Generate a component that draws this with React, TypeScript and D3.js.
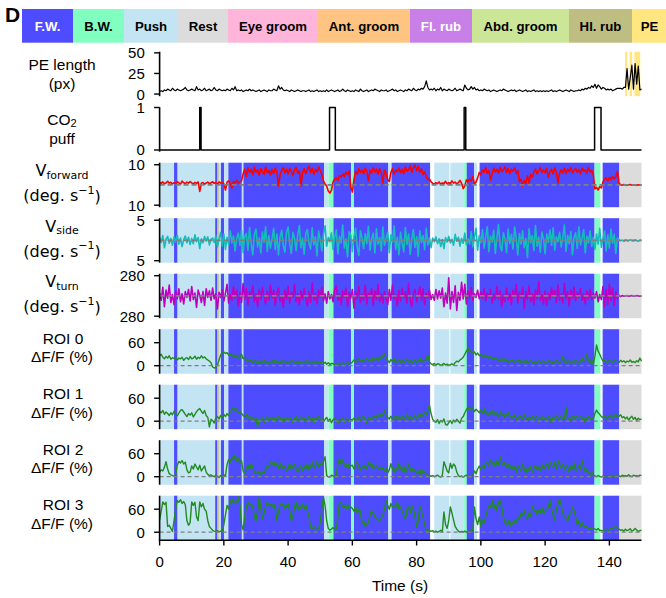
import React from 'react';
import * as d3 from 'd3';

// ---------------- data (sampled every 0.5 s, 0 … 150 s) ----------------
const TIME_STEP = 0.5;

const peLength = [
  3,4,3,5,4,6,5,4,7,5, 4,6,5,4,5,6,8,5,4,5, 6,5,4,9,5,6,4,5,7,4, 5,6,4,5,8,5,4,6,5,4,
  5,4,6,5,4,7,5,9,4,5, 4,5,3,4,5,4,6,4,5,4, 3,4,5,3,4,5,4,3,5,4, 4,6,5,4,10,6,8,5,4,5,
  4,3,5,4,3,4,5,4,3,4, 4,3,4,5,3,4,3,4,5,3, 4,3,4,3,5,3,4,5,4,3, 4,5,3,4,6,4,3,5,4,3,
  4,3,5,4,3,6,4,3,4,5, 3,4,5,4,6,5,4,3,5,4, 4,5,3,4,5,6,4,5,3,4, 5,4,3,5,4,6,5,4,7,5,
  4,6,5,7,6,9,16,8,5,6, 5,7,4,6,5,8,4,6,5,4, 6,5,4,5,7,4,5,6,5,4, 11,7,5,6,9,6,8,5,6,4,
  5,4,6,5,4,5,3,4,5,4, 3,4,5,4,6,5,4,3,4,5, 4,5,3,4,5,4,3,4,5,3, 4,3,4,5,3,4,3,4,3,4,
  3,4,3,4,5,3,4,3,4,5, 4,3,4,5,4,3,5,4,3,4, 4,5,4,6,5,7,6,8,7,10, 8,12,7,11,9,6,8,7,5,6,
  5,6,4,5,6,7,7,7,6,8, 8,31,6,20,35,6,37,12,34,5, 6,
];

const co2Puffs: [number, number][] = [[12.5, 12.9], [52.9, 54.7], [94.8, 95.3], [135.4, 137.4]];

const vForward = [
  1.2,0.8,1.5,0.6,1.0,1.8,0.9,1.3,0.5,1.1, 0.7,1.6,1.0,0.4,1.9,1.1,0.6,1.4,0.9,1.7,
  1.0,0.5,1.3,0.8,1.5,-3.2,0.9,1.2,0.3,1.0, 1.4,0.7,1.1,1.6,0.8,1.2,0.4,1.5,0.9,1.3,
  0.6,-2.5,1.4,2.0,0.8,-1.5,1.8,1.0,2.4,0.9, 1.5,2.0,5.5,7.8,4.2,8.5,6.1,7.9,5.0,8.8,
  6.2,7.5,4.8,8.1,6.6,5.2,8.9,6.0,7.3,4.9, 7.7,5.6,8.3,6.4,-0.5,5.1,7.2,8.6,6.0,7.9,
  5.4,8.2,6.8,4.6,7.5,8.7,5.8,7.0,-0.6,6.3, 8.0,5.5,7.6,9.2,6.1,8.4,5.2,7.8,6.5,8.9,
  7.1,5.0,2.0,0.5,-0.5,-3.0,-4.0,-2.5,1.5,2.8, 3.5,2.2,4.6,3.8,5.4,4.2,6.3,5.1,7.0,-1.0,
  -3.5,2.5,6.8,5.2,8.0,6.1,7.4,5.5,8.3,6.7, 2.0,7.2,5.9,8.5,6.4,7.8,5.3,8.1,6.0,1.0,
  7.5,5.8,2.5,1.8,6.2,8.0,5.4,7.3,6.5,8.4, 6.0,7.8,5.5,8.9,6.8,7.4,9.5,6.2,8.6,9.8,
  7.0,9.2,6.3,8.0,5.1,6.6,4.0,2.5,3.0,1.5, 0.8,0.3,1.2,0.6,1.5,0.4,1.0,0.7,1.8,0.5,
  1.2,0.6,2.0,0.9,1.4,0.5,1.1,2.2,0.8,-1.8, -0.5,2.5,1.6,2.8,1.9,4.2,0.5,1.5,3.5,6.2,
  5.0,7.5,6.2,8.6,5.8,7.1,2.5,5.4,8.3,6.4, 7.8,5.9,8.8,6.5,7.4,9.0,6.2,8.1,5.6,7.7,
  6.8,8.5,5.7,7.2,1.5,3.0,-0.5,2.2,0.8,4.5, 1.0,5.2,3.8,6.5,7.9,5.5,7.0,8.6,6.1,7.5,
  5.9,8.2,3.8,6.7,7.8,5.4,8.5,6.3,1.0,5.8, 7.6,6.0,8.4,5.6,7.9,6.6,8.7,5.9,7.3,8.1,
  6.2,7.7,5.5,8.3,6.9,7.5,5.8,8.6,6.4,7.2, 5.0,-2.0,-1.2,-2.5,-0.8,-1.5,1.5,2.8,3.5,2.0,
  3.8,2.5,4.2,3.0,4.0,6.8,1.0,0.1,-0.1,0.2, 0.0,-0.2,0.1,0.2,-0.1,0.0,0.1,-0.2,0.1,0.0,
  0.0,
];

const vSide = [
  0.8,-0.5,1.2,-1.8,0.3,1.0,-0.7,0.5,-1.2,0.9, -0.4,1.3,-0.9,0.6,-1.5,0.2,1.1,-0.6,0.8,-1.0,
  0.5,-0.8,1.4,-0.3,0.7,-2.0,0.4,-0.6,1.0,-0.2, 0.9,-1.1,0.3,0.6,-0.5,1.2,-1.6,0.4,2.0,-1.4,
  1.6,-2.2,0.8,-1.0,2.4,-0.6,1.1,-2.6,0.5,1.8, -1.2,2.5,-3.0,0.9,1.7,-2.4,3.2,-0.8,-3.5,1.5,
  2.8,-1.6,0.6,-3.1,2.1,-0.5,3.4,-2.7,1.2,-1.9, 0.4,3.0,-2.2,1.6,-3.6,0.8,2.5,-1.3,-2.9,1.9,
  3.3,-0.9,-3.2,2.0,0.5,-2.5,1.4,3.7,-1.8,0.6, -3.4,1.8,2.7,-0.7,-2.1,3.1,-1.1,0.9,-3.8,2.3,
  0.2,-2.6,1.5,3.6,-1.4,0.7,-0.3,1.9,-2.2,0.8, 2.6,-3.3,1.0,-0.6,3.8,-1.9,0.4,-4.1,2.2,1.3,
  -2.8,0.9,3.0,-1.5,-3.7,2.4,0.6,-2.0,1.7,-0.8, 3.5,-2.4,0.3,1.8,-3.1,2.9,-0.9,0.7,-2.6,3.3,
  -1.2,0.5,2.1,-3.0,1.4,-0.4,3.6,-2.2,0.8,-3.5, 2.0,-0.7,-2.8,3.2,-1.0,1.6,-3.4,0.4,2.7,-1.7,
  0.9,-3.9,2.4,-0.5,1.2,-2.3,3.0,-1.1,0.6,-1.8, 0.6,-0.3,0.9,-0.8,0.4,-1.5,0.2,-2.0,0.7,-0.4,
  1.0,-0.6,0.3,-1.2,1.5,-0.2,0.8,-1.4,0.5,-0.7, 1.8,-1.1,0.4,-0.9,2.2,-1.6,0.9,3.0,-2.4,1.2,
  -0.6,2.7,-1.9,0.8,3.4,-2.8,1.1,-0.4,2.5,-3.2, 0.7,3.9,-1.3,-2.6,1.9,0.3,-3.0,2.8,-0.8,1.5,
  -2.1,3.3,0.6,-3.6,1.7,-0.9,2.4,-1.8,0.5,-4.2, 2.9,-0.6,1.2,-2.5,3.7,-1.4,0.8,-2.9,2.1,0.4,
  -3.3,1.6,-0.5,2.6,-1.2,3.1,-2.4,0.9,-0.3,2.0, -1.6,0.7,3.8,-2.7,1.3,-0.8,2.2,-3.5,0.6,1.9,
  -2.0,3.4,-1.1,0.5,2.7,-3.1,1.0,-0.6,2.4,-1.5, 0.8,-2.2,1.6,-0.9,3.0,-1.7,0.5,2.3,-2.6,1.4,
  -1.9,2.8,-0.7,1.5,-3.2,0.6,0.2,-0.1,0.1,-0.2, 0.1,0.0,-0.1,0.2,0.0,-0.1,0.1,0.0,-0.2,0.1,
  0.0,
];

const vTurn = [
  40,-60,120,-150,80,-30,150,-90,20,-120, 70,-40,100,-80,30,-110,60,-20,90,-70,
  130,-50,40,-160,80,10,-90,60,-130,100, -20,70,-60,110,-40,30,-180,50,-20,90,
  -70,40,160,-100,20,-60,130,-30,80,-140, 50,-90,170,-40,100,-120,60,-20,140,-80,
  30,-150,90,-50,120,-10,-110,70,-60,150, -30,80,-130,40,110,-70,20,-160,90,-40,
  130,-100,50,-20,160,-80,30,-120,70,-50, 100,-30,-140,60,-90,180,-60,40,-110,80,
  -20,120,-70,30,-100,60,-40,20,-80,90, 140,-60,30,-120,70,-20,110,-150,50,-30,
  90,-170,60,-40,130,-90,20,-60,150,-110, 40,-20,100,-130,70,-50,160,-80,30,-100,
  60,-30,-120,90,-60,150,-40,20,-140,80, -70,110,-30,60,-100,170,-50,-150,40,90,
  -80,20,130,-60,100,-120,40,-30,80,-50, 20,-60,90,-40,70,-30,110,-150,40,-100,
  250,-180,60,-90,140,-200,50,-60,190,-40, 160,-110,70,-30,120,-60,30,-20,80,-40,
  60,-30,100,-70,40,-20,90,-100,30,-50, 130,-40,70,-150,20,-80,110,-60,40,-120,
  80,-20,160,-100,50,-30,120,-170,60,-50, 140,-80,30,-120,90,-40,200,-60,20,-110,
  70,-130,40,-50,110,-20,80,-90,150,-60, 30,-100,170,-40,60,-140,90,-30,120,-70,
  50,-20,100,-60,30,-110,70,-40,90,-50, 40,-30,60,-80,20,-50,130,-150,90,-120,
  160,-70,110,-130,60,-40,10,-10,5,-5, 0,5,-5,0,5,-5,0,5,0,-5,
  0,
];

const roi0 = [
  25,30,22,18,24,20,26,17,21,19, 23,15,20,18,22,14,19,21,16,24, 18,20,25,17,22,19,26,20,23,18,
  15,12,8,-3,-6,-4,2,15,28,33, 36,32,34,28,31,25,29,22,27,20, 24,30,18,22,14,17,12,15,9,13,
  8,14,6,11,9,15,7,12,5,10, 13,7,16,9,11,6,14,8,12,10, 6,12,9,15,7,11,5,13,8,10,
  12,7,14,9,5,11,8,13,6,10, 7,11,5,9,4,8,3,6,5,2, 6,3,8,4,7,2,5,9,4,6,
  10,15,8,13,18,11,16,9,14,20, 12,17,10,22,15,19,13,24,18,26, 32,20,14,8,16,11,19,7,13,17,
  9,15,6,12,18,10,14,5,11,16, 8,13,20,9,15,11,17,28,10,5, 3,6,2,5,4,1,3,6,2,4,
  1,3,5,2,8,12,10,15,18,22, 30,38,46,35,40,32,36,28,33,26, 30,24,28,22,27,20,25,18,22,16,
  19,14,17,11,20,13,15,9,16,12, 14,8,13,10,17,7,12,9,15,6, 11,14,8,12,5,10,15,7,13,9,
  6,11,14,8,13,5,10,16,7,12, 9,26,11,7,14,10,6,12,8,15, 11,5,13,20,9,14,30,12,8,16,
  3,25,54,38,30,20,12,15,9,14, 10,13,8,15,11,12,9,14,10,13, 8,12,10,15,9,11,8,13,10,20,
  12,
];

const roi1 = [
  25,22,28,18,24,20,15,22,17,26, 19,14,21,28,30,24,18,12,20,16, 22,11,18,25,30,33,26,20,28,15,
  10,-15,5,2,-5,8,12,6,15,10, 18,12,20,14,25,30,36,28,32,22, 26,20,15,11,18,8,14,5,10,3,
  8,-15,6,2,10,-4,7,12,1,9, 4,11,-2,8,13,3,10,-3,6,9, 2,10,5,-5,8,12,0,7,11,4,
  9,-2,6,13,3,8,-6,10,5,12, 3,7,-2,5,10,0,6,-4,4,8, 2,-5,6,1,9,-3,4,7,-1,5,
  3,8,0,6,11,2,9,13,5,-6, 10,4,12,7,15,9,18,11,20,14, 29,16,10,6,13,3,9,15,5,11,
  8,14,3,10,17,7,12,4,9,16, 6,13,20,10,18,25,15,30,42,20, 5,0,-3,4,-6,2,-2,6,-8,-10,
  -4,2,-6,3,-2,5,0,-5,8,12, 22,30,37,28,34,36,25,31,27,22, 29,20,33,18,25,14,22,28,16,24,
  19,12,26,15,21,9,17,23,11,14, 8,16,3,12,7,14,5,18,9,2, 11,6,15,3,9,13,-2,8,12,5,
  10,2,14,7,-4,11,6,16,3,9, 13,4,8,37,6,10,1,12,7,15, 9,9,14,5,11,-3,8,13,4,10,
  6,20,29,22,18,12,9,15,7,13, 11,16,8,14,19,10,13,17,9,12, 6,11,3,9,13,5,10,2,8,4,
  6,
];

const roi2 = [
  12,18,15,25,39,20,8,5,3,2, 6,30,40,36,42,33,38,18,10,12, 28,20,33,25,18,30,15,22,28,12,
  6,3,5,2,0,4,1,-2,3,1, 5,2,32,45,38,52,44,57,40,48, 35,42,15,8,22,30,18,35,25,12,
  10,8,15,6,12,9,18,30,24,38, 32,40,28,35,22,36,20,30,25,15, 22,35,18,28,33,20,12,25,30,16,
  26,20,34,18,28,38,22,30,42,25, 35,30,40,52,3,0,-1,4,2,1, 5,35,48,32,45,30,25,36,22,28,
  30,20,35,39,25,18,28,22,30,20, 39,28,36,20,25,30,22,18,26,20, 15,22,10,18,34,20,12,25,15,36,
  22,14,28,10,20,35,16,24,12,18, 8,15,5,20,10,14,6,2,4,1, 3,0,2,4,1,-1,3,39,28,15,
  10,35,22,33,28,12,3,0,2,-1, 2,4,0,3,1,5,15,8,20,28, 18,30,22,35,40,28,45,33,38,25,
  42,30,52,36,28,40,25,34,20,30, 18,26,12,30,22,15,35,20,10,24, 16,28,12,22,30,18,25,14,32,20,
  28,35,22,40,30,25,38,20,43,30, 22,35,18,30,25,12,28,20,36,15, 22,30,18,44,25,12,20,10,6,12,
  5,2,0,3,1,-1,2,0,3,1, 2,4,0,3,1,5,2,0,4,2, 3,1,5,2,0,4,2,3,1,4,
  3,
];

const roi3 = [
  32,55,79,72,78,15,18,10,2,30, 60,83,78,85,75,80,72,30,18,25, 79,70,78,40,30,79,66,75,60,55,
  30,15,10,5,3,2,4,1,3,2, 20,45,70,60,80,87,75,82,79,92, 70,20,6,40,66,79,70,75,66,40,
  30,55,92,60,35,50,66,79,70,72, 66,75,60,30,55,75,70,75,62,68, 75,55,30,40,66,79,57,70,62,75,
  60,72,57,40,12,8,15,10,6,12, 25,60,92,70,30,10,5,8,12,6, 8,40,79,75,66,70,60,72,62,66,
  62,55,66,49,60,55,23,30,15,20, 25,45,57,50,40,35,32,30,38,45, 60,83,70,60,75,65,70,66,79,60,
  66,55,45,35,60,66,50,70,60,40, 15,30,70,55,40,20,6,3,5,2, 4,1,3,0,2,5,1,53,20,10,
  30,66,50,32,15,8,3,0,2,1, 3,0,2,1,4,2,66,35,20,40, 15,30,25,40,57,70,66,83,60,75,
  57,79,83,65,40,25,20,32,15,28, 20,30,25,40,32,50,45,57,40,35, 50,42,70,55,60,45,57,50,65,48,
  55,60,66,83,60,45,32,60,75,87, 70,50,40,35,30,45,50,66,55,40, 20,30,15,25,18,12,15,10,8,12,
  10,8,6,10,4,5,3,6,8,5, 7,10,8,12,15,10,8,5,6,3, 8,4,6,9,3,5,10,6,2,4,
  5,
];

const behaviorNames = ['F.W.', 'B.W.', 'Push', 'Rest', 'Eye groom', 'Ant. groom', 'Fl. rub', 'Abd. groom', 'Hl. rub', 'PE'];
const behaviorColors = ['#4d4dff', '#80ffc0', '#c2e4f3', '#dcdcdc', '#ffb4da', '#ffc482', '#c880e8', '#cce698', '#bebe82', '#ffe680'];
const behaviorTextColors = ['#ffffff', '#000000', '#000000', '#000000', '#000000', '#000000', '#ffffff', '#000000', '#000000', '#000000'];

const behaviorEpochs: [number, number, string][] = [
  [0, 4.5, 'Push'], [4.5, 5.6, 'F.W.'], [5.6, 17.3, 'Push'], [17.3, 17.9, 'F.W.'],
  [17.9, 18.45, 'Hl. rub'], [18.45, 19.1, 'Push'], [19.1, 20.1, 'F.W.'], [20.1, 21.4, 'Push'],
  [21.4, 25.6, 'F.W.'], [25.6, 26.1, 'Push'], [26.1, 51.2, 'F.W.'], [51.2, 52.6, 'Push'],
  [52.6, 54.1, 'B.W.'], [54.1, 59.6, 'F.W.'], [59.6, 60.5, 'B.W.'], [60.5, 71.2, 'F.W.'],
  [71.2, 72.2, 'Push'], [72.2, 84.2, 'F.W.'], [85.5, 90.2, 'Push'], [90.5, 94.8, 'Push'],
  [94.8, 95.6, 'B.W.'], [95.6, 97.9, 'F.W.'], [97.9, 98.8, 'Push'], [99.6, 135.4, 'F.W.'],
  [135.4, 137.2, 'B.W.'], [137.9, 143.1, 'F.W.'], [143.1, 150, 'Rest'],
];
const peEpochs: [number, number][] = [[144.9, 145.6], [146.3, 147.1], [147.8, 149.6]];

const xTicks = [0, 20, 40, 60, 80, 100, 120, 140];
const peTicks = [0, 25, 50];
const co2Ticks = [0, 1];
const vForwardTicks = [-10, 10];
const vForwardTickLabels = ['10', '10'];
const vSideTicks = [-5, 5];
const vSideTickLabels = ['5', '5'];
const vTurnTicks = [-280, 280];
const vTurnTickLabels = ['280', '280'];
const roiTicks = [0, 60];

// ---------------- layout ----------------
const W = 666;
const H = 598;
const X0 = 159.6;
const X1 = 641.5;
const PANEL_TOP = 51.7;
const PANEL_STEP = 55.5;
const PANEL_H = 44.5;
const LABEL_X = 62;
const SANS = "'Liberation Sans', Arial, sans-serif";
const DEJAVU = "'DejaVu Sans', sans-serif";
const legendWidths = [51, 51, 54, 50, 90, 92, 62, 97, 63, 41];

type PanelDef = {
  data: number[];
  domain: [number, number];
  ticks: number[];
  tickLabels?: string[];
  color: string;
  width: number;
  bands: boolean;
  zero: 'none' | 'thick' | 'thin';
};

export default function App() {
  const time = peLength.map((_, i) => i * TIME_STEP);
  const x = d3.scaleLinear().domain([0, 150]).range([X0, X1]);
  const colorOf = (name: string) => behaviorColors[behaviorNames.indexOf(name)];

  const co2Points: [number, number][] = [[0, 0]];
  co2Puffs.forEach(([s, e]) => {
    co2Points.push([s, 0], [s, 1], [e, 1], [e, 0]);
  });
  co2Points.push([150, 0]);

  const panels: PanelDef[] = [
    { data: peLength, domain: [-2.6, 51.4], ticks: peTicks, color: '#000000', width: 1.2, bands: false, zero: 'none' },
    { data: [], domain: [-0.04, 1.007], ticks: co2Ticks, color: '#000000', width: 1.5, bands: false, zero: 'none' },
    { data: vForward, domain: [-11, 11], ticks: vForwardTicks, tickLabels: vForwardTickLabels, color: '#ff0000', width: 1.6, bands: true, zero: 'thick' },
    { data: vSide, domain: [-5.5, 5.5], ticks: vSideTicks, tickLabels: vSideTickLabels, color: '#16bcbc', width: 1.6, bands: true, zero: 'thick' },
    { data: vTurn, domain: [-308, 308], ticks: vTurnTicks, tickLabels: vTurnTickLabels, color: '#bf00bf', width: 1.6, bands: true, zero: 'thick' },
    { data: roi0, domain: [-20.8, 95.2], ticks: roiTicks, color: '#228b22', width: 1.4, bands: true, zero: 'thin' },
    { data: roi1, domain: [-20.8, 95.2], ticks: roiTicks, color: '#228b22', width: 1.4, bands: true, zero: 'thin' },
    { data: roi2, domain: [-20.8, 95.2], ticks: roiTicks, color: '#228b22', width: 1.4, bands: true, zero: 'thin' },
    { data: roi3, domain: [-20.8, 95.2], ticks: roiTicks, color: '#228b22', width: 1.4, bands: true, zero: 'thin' },
  ];

  const legendX: number[] = [];
  legendWidths.reduce((acc, w) => { legendX.push(acc); return acc + w; }, 22);

  const fs = 15.5;
  const sub = 11;

  const leftLabels = [
    [<tspan key="a">PE length</tspan>, <tspan key="b">(px)</tspan>],
    [<tspan key="a">CO<tspan fontSize={sub} dy={4}>2</tspan></tspan>, <tspan key="b">puff</tspan>],
  ];

  const velLabel = (name: string, i: number) => {
    const top = PANEL_TOP + PANEL_STEP * i;
    return (
      <g key={'vl' + i} fontFamily={DEJAVU} fontSize={16} textAnchor="middle">
        <text x={LABEL_X} y={top + 8} dominantBaseline="central">
          V<tspan fontSize={sub} dy={4}>{name}</tspan>
        </text>
        <text x={LABEL_X} y={top + 33} dominantBaseline="central">
          (deg. s<tspan fontSize={sub} dy={-6}>−1</tspan><tspan dy={6}>)</tspan>
        </text>
      </g>
    );
  };

  return (
    <svg width={W} height={H} style={{ position: 'absolute', left: 0, top: 0, background: '#fff' }}>
      {/* panel letter */}
      <text x={5} y={22} fontFamily={SANS} fontWeight="bold" fontSize={21}>D</text>

      {/* legend */}
      {behaviorNames.map((name, i) => (
        <g key={name}>
          <rect x={legendX[i]} y={9} width={legendWidths[i]} height={33.7} fill={behaviorColors[i]} />
          <text x={legendX[i] + legendWidths[i] / 2 - (name === 'PE' ? 3 : 0)} y={26} textAnchor="middle" dominantBaseline="central"
            fontFamily={SANS} fontWeight="bold" fontSize={13.2} fill={behaviorTextColors[i]}>{name}</text>
        </g>
      ))}

      {panels.map((p, i) => {
        const top = PANEL_TOP + PANEL_STEP * i;
        const y = d3.scaleLinear().domain(p.domain).range([top + PANEL_H, top]);
        let path = '';
        if (i === 1) {
          path = d3.line<[number, number]>().x(d => x(d[0])).y(d => y(d[1]))(co2Points) || '';
        } else {
          path = d3.line<number>().x((_, k) => x(time[k])).y(d => y(d))(p.data) || '';
        }
        return (
          <g key={'p' + i}>
            {p.bands && behaviorEpochs.map(([s, e, b], k) => (
              <rect key={k} x={x(s)} y={top} width={x(e) - x(s)} height={PANEL_H} fill={colorOf(b)} />
            ))}
            {i === 0 && peEpochs.map(([s, e], k) => (
              <rect key={k} x={x(s)} y={top} width={x(e) - x(s)} height={PANEL_H} fill={colorOf('PE')} />
            ))}
            <path d={path} fill="none" stroke={p.color} strokeWidth={p.width} strokeLinejoin="round" />
            {p.zero !== 'none' && (
              <line x1={X0} x2={X1} y1={y(0)} y2={y(0)} stroke="#7f7f7f"
                strokeWidth={p.zero === 'thick' ? 1.8 : 1.2}
                strokeDasharray={p.zero === 'thick' ? '5,3' : '4,3'} />
            )}
            {/* left spine */}
            <line x1={X0} x2={X0} y1={top} y2={top + PANEL_H} stroke="#000" strokeWidth={1.6} />
            {p.ticks.map((t, k) => (
              <g key={'t' + k}>
                <line x1={X0 - 5.5} x2={X0} y1={y(t)} y2={y(t)} stroke="#000" strokeWidth={1.4} />
                <text x={144.8} y={y(t)} textAnchor="end" dominantBaseline="central" fontFamily={SANS} fontSize={15}>
                  {p.tickLabels ? p.tickLabels[k] : String(t)}
                </text>
              </g>
            ))}
          </g>
        );
      })}

      {/* left labels */}
      {leftLabels.map((lines, i) => {
        const top = PANEL_TOP + PANEL_STEP * i;
        return (
          <g key={'ll' + i} fontFamily={SANS} fontSize={fs} textAnchor="middle">
            <text x={LABEL_X} y={top + 12} dominantBaseline="central">{lines[0]}</text>
            <text x={LABEL_X} y={top + 31} dominantBaseline="central">{lines[1]}</text>
          </g>
        );
      })}
      {velLabel('forward', 2)}
      {velLabel('side', 3)}
      {velLabel('turn', 4)}
      {[0, 1, 2, 3].map((r) => {
        const top = PANEL_TOP + PANEL_STEP * (5 + r);
        return (
          <g key={'roi' + r} fontFamily={SANS} fontSize={fs} textAnchor="middle">
            <text x={LABEL_X + 1} y={top + 9} dominantBaseline="central">ROI {r}</text>
            <text x={LABEL_X} y={top + 27.5} dominantBaseline="central">ΔF/F (%)</text>
          </g>
        );
      })}

      {/* x axis */}
      <line x1={X0 - 0.8} x2={X1} y1={540.2} y2={540.2} stroke="#000" strokeWidth={1.6} />
      {xTicks.map(t => (
        <g key={'x' + t}>
          <line x1={x(t)} x2={x(t)} y1={540.2} y2={545.5} stroke="#000" strokeWidth={1.4} />
          <text x={x(t)} y={561} textAnchor="middle" dominantBaseline="central" fontFamily={SANS} fontSize={15}>{t}</text>
        </g>
      ))}
      <text x={400} y={585} textAnchor="middle" dominantBaseline="central" fontFamily={SANS} fontSize={15.5}>Time (s)</text>
    </svg>
  );
}
